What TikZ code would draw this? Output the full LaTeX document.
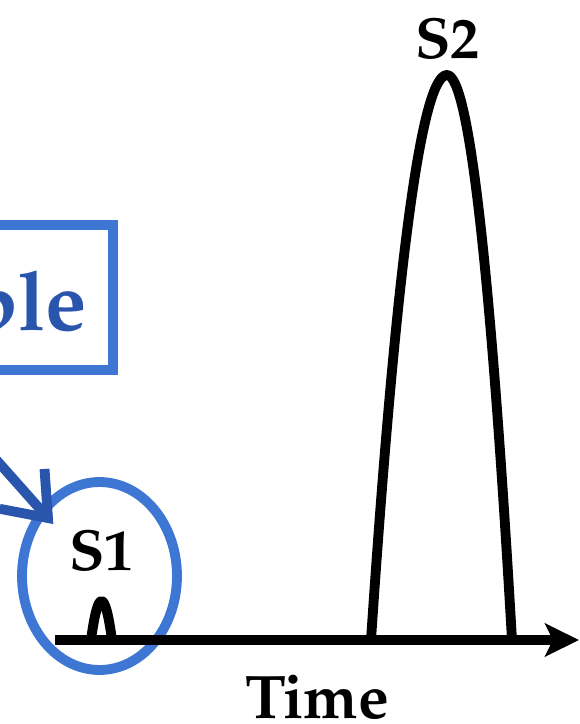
\documentclass[tikz,border=0pt]{standalone}
\usepackage[T1]{fontenc}
\usepackage{mathpazo}
\usetikzlibrary{arrows.meta,shapes.geometric}
\definecolor{ringblue}{HTML}{3E77D3}
\definecolor{deepblue}{HTML}{2A55AD}
\begin{document}
\begin{tikzpicture}[x=0.02cm, y=-0.02cm, line width=5.6pt,
    lbl/.style={font=\bfseries\fontsize{33}{36}\selectfont, inner sep=0pt},
    ring/.style={ellipse, draw=ringblue, minimum width=3.1cm, minimum height=3.76cm, inner sep=0pt},
    pulse/.style={line join=round},
    pointer/.style={deepblue, -{Straight Barb[length=0.78cm, width=1.2cm]}, shorten >=-0.42cm},
    axis/.style={-{Stealth[length=0.68cm, width=0.66cm, inset=0.16cm]}}]
\useasboundingbox (0,0) rectangle (579,724);
\clip (0,0) rectangle (579,724);
% box with the label, cut at the left
\draw[ringblue] (-300,225) rectangle (113,370);
\node[lbl, font=\bfseries\fontsize{47}{50}\selectfont, text=deepblue, anchor=base east] (tagtext) at (92,330) {ple};
% first peak in its ring
\node[ring] (s1ring) at (99.5,576) {};
\node[lbl, anchor=base] (s1) at (101.5,570) {S1};
\coordinate (from) at (-40,419);
\draw[pointer] (from) -- (s1ring);
% time axis
\coordinate (t0) at (55,640);
\coordinate (t1) at (579,640);
\draw[axis] (t0) -- (t1);
\node[lbl, font=\bfseries\fontsize{35}{38}\selectfont, anchor=base] (time) at (317.5,718) {Time};
% the two peaks
\draw[pulse] (91,640) .. controls (94.5,614) and (98,601) .. (101.5,601) .. controls (105,601) and (108.5,614) .. (112,640);
\draw[pulse] (371,640) .. controls (396.3,263.3) and (421.7,75) .. (447,75) .. controls (468.7,75) and (490.3,263.3) .. (512,640);
\node[lbl, anchor=base] (s2) at (447.5,58) {S2};
\end{tikzpicture}
\end{document}
